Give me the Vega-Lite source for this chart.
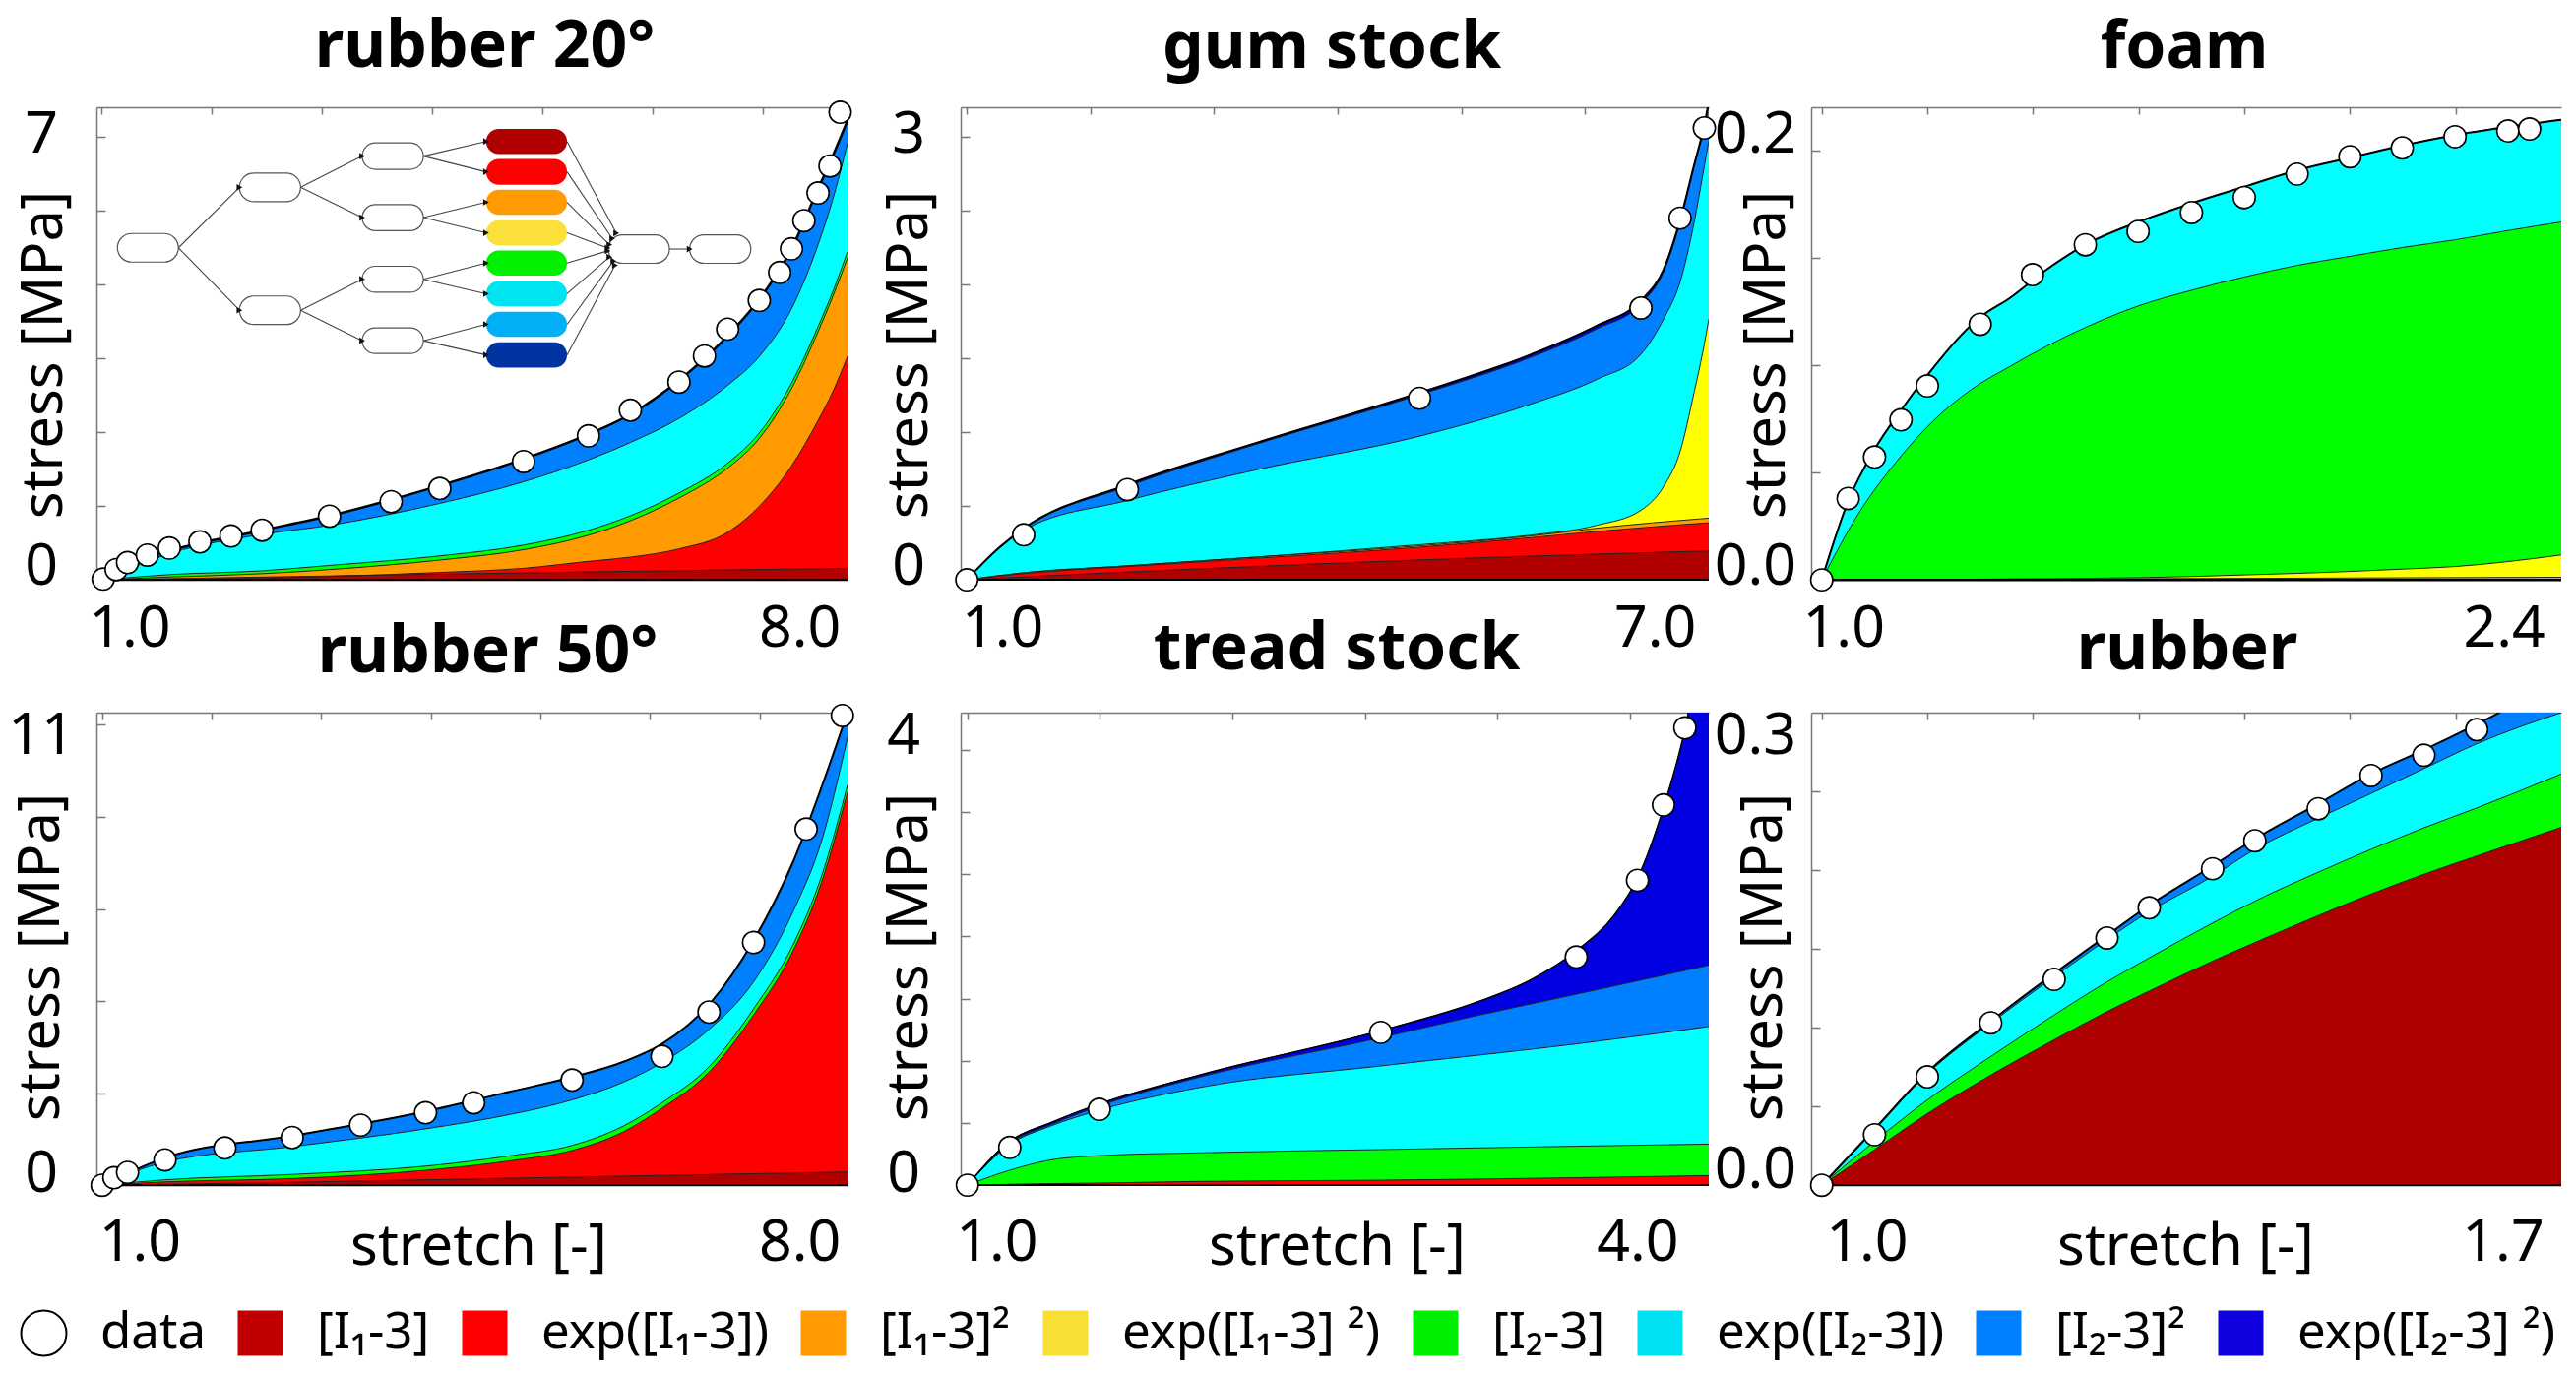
{
"$schema":"https://vega.github.io/schema/vega-lite/v6.json",
"background":"white",
"padding":{"left":8,"top":14,"right":0,"bottom":0},
"config":{"font":"Noto Sans","view":{"stroke":null},"axis":{"domainColor":"#777","tickColor":"#777","domainWidth":1.5,"tickWidth":1.5,"labels":false,"grid":false,"titleFont":"Noto Sans","titleFontSize":58,"titleFontWeight":"normal","titleColor":"black","titleBaseline":"middle"},"title":{"font":"Noto Sans","fontSize":66,"fontWeight":"bold","color":"black","anchor":"middle"},"text":{"font":"Noto Sans","fontSize":59,"color":"black","baseline":"middle","align":"center"}},
"datasets":{
"a1":[
{"t":"I2s","s":1,"v":0},{"t":"I2s","s":1.236,"v":0.235},{"t":"I2s","s":1.631,"v":0.403},{"t":"I2s","s":2.456,"v":0.672},{"t":"I2s","s":3.067,"v":0.868},{"t":"I2s","s":4.067,"v":1.277},{"t":"I2s","s":4.826,"v":1.636},{"t":"I2s","s":5.415,"v":1.972},{"t":"I2s","s":5.795,"v":2.241},{"t":"I2s","s":6.236,"v":2.7},{"t":"I2s","s":6.677,"v":3.305},{"t":"I2s","s":6.964,"v":3.798},{"t":"I2s","s":7.256,"v":4.482},{"t":"I2s","s":7.497,"v":5.294},{"t":"I2s","s":7.631,"v":5.742},{"t":"I2s","s":7.764,"v":6.218},
{"t":"eI2","s":1,"v":0},{"t":"eI2","s":1.631,"v":0.364},{"t":"eI2","s":2.456,"v":0.616},{"t":"eI2","s":3.067,"v":0.739},{"t":"eI2","s":4.067,"v":1.036},{"t":"eI2","s":4.826,"v":1.328},{"t":"eI2","s":5.415,"v":1.625},{"t":"eI2","s":5.795,"v":1.86},{"t":"eI2","s":6.236,"v":2.185},{"t":"eI2","s":6.677,"v":2.633},{"t":"eI2","s":6.964,"v":3.025},{"t":"eI2","s":7.256,"v":3.669},{"t":"eI2","s":7.497,"v":4.538},{"t":"eI2","s":7.631,"v":5.154},{"t":"eI2","s":7.764,"v":5.91},
{"t":"I2","s":1,"v":0},{"t":"I2","s":1.631,"v":0.073},{"t":"I2","s":2.456,"v":0.123},{"t":"I2","s":3.067,"v":0.196},{"t":"I2","s":4.067,"v":0.325},{"t":"I2","s":4.826,"v":0.471},{"t":"I2","s":5.415,"v":0.672},{"t":"I2","s":5.795,"v":0.868},{"t":"I2","s":6.236,"v":1.176},{"t":"I2","s":6.677,"v":1.58},{"t":"I2","s":6.964,"v":1.989},{"t":"I2","s":7.256,"v":2.661},{"t":"I2","s":7.497,"v":3.429},{"t":"I2","s":7.631,"v":3.905},{"t":"I2","s":7.764,"v":4.443},
{"t":"I1s","s":1,"v":0},{"t":"I1s","s":1.631,"v":0.039},{"t":"I1s","s":2.456,"v":0.084},{"t":"I1s","s":3.067,"v":0.14},{"t":"I1s","s":4.067,"v":0.269},{"t":"I1s","s":4.826,"v":0.409},{"t":"I1s","s":5.415,"v":0.605},{"t":"I1s","s":5.795,"v":0.801},{"t":"I1s","s":6.236,"v":1.109},{"t":"I1s","s":6.677,"v":1.513},{"t":"I1s","s":6.964,"v":1.916},{"t":"I1s","s":7.256,"v":2.588},{"t":"I1s","s":7.497,"v":3.361},{"t":"I1s","s":7.631,"v":3.838},{"t":"I1s","s":7.764,"v":4.359},
{"t":"eI1","s":1,"v":0},{"t":"eI1","s":2.456,"v":0.017},{"t":"eI1","s":3.067,"v":0.045},{"t":"eI1","s":4.067,"v":0.101},{"t":"eI1","s":4.826,"v":0.157},{"t":"eI1","s":5.415,"v":0.252},{"t":"eI1","s":5.795,"v":0.308},{"t":"eI1","s":6.236,"v":0.42},{"t":"eI1","s":6.677,"v":0.644},{"t":"eI1","s":6.964,"v":0.997},{"t":"eI1","s":7.256,"v":1.541},{"t":"eI1","s":7.497,"v":2.157},{"t":"eI1","s":7.631,"v":2.549},{"t":"eI1","s":7.764,"v":3.025},
{"t":"I1","s":1,"v":0},{"t":"I1","s":4.067,"v":0.078},{"t":"I1","s":7.764,"v":0.157}
],
"p1":[{"s":1.015,"v":0.011},{"s":1.133,"v":0.14},{"s":1.236,"v":0.235},{"s":1.415,"v":0.336},{"s":1.615,"v":0.431},{"s":1.892,"v":0.515},{"s":2.174,"v":0.594},{"s":2.456,"v":0.672},{"s":3.067,"v":0.863},{"s":3.626,"v":1.059},{"s":4.067,"v":1.238},{"s":4.826,"v":1.602},{"s":5.415,"v":1.95},{"s":5.795,"v":2.297},{"s":6.236,"v":2.678},{"s":6.467,"v":3.031},{"s":6.677,"v":3.395},{"s":6.964,"v":3.782},{"s":7.149,"v":4.162},{"s":7.256,"v":4.482},{"s":7.369,"v":4.863},{"s":7.497,"v":5.238},{"s":7.605,"v":5.602},{"s":7.697,"v":6.331}],
"a2":[
{"t":"eI2s","s":1,"v":0},{"t":"eI2s","s":1.232,"v":0.196},{"t":"eI2s","s":1.46,"v":0.348},{"t":"eI2s","s":2.299,"v":0.645},{"t":"eI2s","s":3.33,"v":0.925},{"t":"eI2s","s":4.661,"v":1.267},{"t":"eI2s","s":5.563,"v":1.527},{"t":"eI2s","s":6.098,"v":1.724},{"t":"eI2s","s":6.451,"v":1.892},{"t":"eI2s","s":6.634,"v":2.102},{"t":"eI2s","s":6.768,"v":2.438},{"t":"eI2s","s":6.879,"v":2.803},{"t":"eI2s","s":6.964,"v":3.083},{"t":"eI2s","s":7,"v":3.237},
{"t":"I2s","s":1,"v":0},{"t":"I2s","s":1.232,"v":0.196},{"t":"I2s","s":1.46,"v":0.347},{"t":"I2s","s":2.299,"v":0.633},{"t":"I2s","s":3.33,"v":0.916},{"t":"I2s","s":4.661,"v":1.253},{"t":"I2s","s":5.563,"v":1.508},{"t":"I2s","s":6.098,"v":1.701},{"t":"I2s","s":6.451,"v":1.869},{"t":"I2s","s":6.634,"v":2.085},{"t":"I2s","s":6.768,"v":2.422},{"t":"I2s","s":6.879,"v":2.789},{"t":"I2s","s":6.964,"v":3.069},{"t":"I2s","s":7,"v":3.223},
{"t":"eI2","s":1,"v":0},{"t":"eI2","s":1.46,"v":0.336},{"t":"eI2","s":2.299,"v":0.538},{"t":"eI2","s":3.33,"v":0.743},{"t":"eI2","s":4.661,"v":0.973},{"t":"eI2","s":5.563,"v":1.191},{"t":"eI2","s":6.098,"v":1.359},{"t":"eI2","s":6.451,"v":1.527},{"t":"eI2","s":6.634,"v":1.766},{"t":"eI2","s":6.768,"v":2.018},{"t":"eI2","s":6.879,"v":2.41},{"t":"eI2","s":6.964,"v":2.803},{"t":"eI2","s":7,"v":2.971},
{"t":"eI1s","s":1,"v":0},{"t":"eI1s","s":1.46,"v":0.048},{"t":"eI1s","s":2.299,"v":0.095},{"t":"eI1s","s":3.33,"v":0.154},{"t":"eI1s","s":4.661,"v":0.238},{"t":"eI1s","s":5.563,"v":0.303},{"t":"eI1s","s":6.098,"v":0.37},{"t":"eI1s","s":6.451,"v":0.471},{"t":"eI1s","s":6.634,"v":0.631},{"t":"eI1s","s":6.768,"v":0.869},{"t":"eI1s","s":6.879,"v":1.261},{"t":"eI1s","s":6.964,"v":1.598},{"t":"eI1s","s":7,"v":1.766},
{"t":"I1s","s":1,"v":0},{"t":"I1s","s":1.46,"v":0.048},{"t":"I1s","s":2.299,"v":0.095},{"t":"I1s","s":3.33,"v":0.154},{"t":"I1s","s":4.661,"v":0.23},{"t":"I1s","s":5.563,"v":0.297},{"t":"I1s","s":6.098,"v":0.35},{"t":"I1s","s":7,"v":0.418},
{"t":"eI1","s":1,"v":0},{"t":"eI1","s":1.46,"v":0.042},{"t":"eI1","s":2.299,"v":0.09},{"t":"eI1","s":3.33,"v":0.146},{"t":"eI1","s":4.661,"v":0.221},{"t":"eI1","s":5.563,"v":0.286},{"t":"eI1","s":6.098,"v":0.328},{"t":"eI1","s":7,"v":0.387},
{"t":"I1","s":1,"v":0},{"t":"I1","s":1.46,"v":0.02},{"t":"I1","s":3.33,"v":0.09},{"t":"I1","s":4.661,"v":0.135},{"t":"I1","s":7,"v":0.196}
],
"p2":[{"s":1,"v":0},{"s":1.46,"v":0.305},{"s":2.299,"v":0.611},{"s":4.661,"v":1.23},{"s":6.451,"v":1.841},{"s":6.768,"v":2.45},{"s":6.964,"v":3.061}],
"a3":[
{"t":"eI2","s":1,"v":0},{"t":"eI2","s":1.05,"v":0.0366},{"t":"eI2","s":1.1,"v":0.0607},{"t":"eI2","s":1.15,"v":0.079},{"t":"eI2","s":1.2,"v":0.0953},{"t":"eI2","s":1.3,"v":0.1223},{"t":"eI2","s":1.355,"v":0.131},{"t":"eI2","s":1.426,"v":0.1445},{"t":"eI2","s":1.499,"v":0.156},{"t":"eI2","s":1.599,"v":0.1666},{"t":"eI2","s":1.7,"v":0.1753},{"t":"eI2","s":1.8,"v":0.183},{"t":"eI2","s":1.9,"v":0.1907},{"t":"eI2","s":2,"v":0.1965},{"t":"eI2","s":2.099,"v":0.2022},{"t":"eI2","s":2.199,"v":0.2071},{"t":"eI2","s":2.299,"v":0.2109},{"t":"eI2","s":2.4,"v":0.2142},
{"t":"I2","s":1,"v":0},{"t":"I2","s":1.072,"v":0.0318},{"t":"I2","s":1.141,"v":0.0549},{"t":"I2","s":1.212,"v":0.0742},{"t":"I2","s":1.283,"v":0.0886},{"t":"I2","s":1.355,"v":0.0992},{"t":"I2","s":1.426,"v":0.1088},{"t":"I2","s":1.499,"v":0.1175},{"t":"I2","s":1.599,"v":0.1275},{"t":"I2","s":1.7,"v":0.1348},{"t":"I2","s":1.8,"v":0.141},{"t":"I2","s":1.9,"v":0.1464},{"t":"I2","s":2,"v":0.1506},{"t":"I2","s":2.099,"v":0.1547},{"t":"I2","s":2.199,"v":0.1583},{"t":"I2","s":2.299,"v":0.1626},{"t":"I2","s":2.4,"v":0.1666},
{"t":"eI1s","s":1,"v":0},{"t":"eI1s","s":1.599,"v":0.001},{"t":"eI1s","s":1.8,"v":0.0023},{"t":"eI1s","s":2,"v":0.0039},{"t":"eI1s","s":2.099,"v":0.005},{"t":"eI1s","s":2.199,"v":0.0062},{"t":"eI1s","s":2.299,"v":0.0085},{"t":"eI1s","s":2.4,"v":0.0116},
{"t":"I1s","s":1,"v":0},{"t":"I1s","s":2.4,"v":0.0012}
],
"p3":[{"s":1,"v":0},{"s":1.05,"v":0.0379},{"s":1.1,"v":0.0572},{"s":1.15,"v":0.0745},{"s":1.2,"v":0.0903},{"s":1.3,"v":0.119},{"s":1.399,"v":0.1421},{"s":1.499,"v":0.156},{"s":1.599,"v":0.1622},{"s":1.7,"v":0.171},{"s":1.8,"v":0.178},{"s":1.9,"v":0.1889},{"s":2,"v":0.197},{"s":2.099,"v":0.2011},{"s":2.199,"v":0.2063},{"s":2.299,"v":0.209},{"s":2.34,"v":0.2099}],
"a4":[
{"t":"I2s","s":1,"v":0},{"t":"I2s","s":1.573,"v":0.594},{"t":"I2s","s":2.734,"v":1.071},{"t":"I2s","s":3.951,"v":1.601},{"t":"I2s","s":4.725,"v":2.033},{"t":"I2s","s":5.288,"v":2.348},{"t":"I2s","s":5.757,"v":2.681},{"t":"I2s","s":6.108,"v":3.068},{"t":"I2s","s":6.537,"v":3.923},{"t":"I2s","s":6.944,"v":5.317},{"t":"I2s","s":7.305,"v":7.027},{"t":"I2s","s":7.564,"v":8.646},{"t":"I2s","s":7.801,"v":10.266},
{"t":"eI2","s":1,"v":0},{"t":"eI2","s":1.573,"v":0.504},{"t":"eI2","s":2.734,"v":0.837},{"t":"eI2","s":3.951,"v":1.224},{"t":"eI2","s":4.725,"v":1.538},{"t":"eI2","s":5.288,"v":1.853},{"t":"eI2","s":5.757,"v":2.24},{"t":"eI2","s":6.108,"v":2.663},{"t":"eI2","s":6.537,"v":3.383},{"t":"eI2","s":6.944,"v":4.417},{"t":"eI2","s":7.305,"v":5.947},{"t":"eI2","s":7.564,"v":7.476},{"t":"eI2","s":7.801,"v":9.717},
{"t":"I2","s":1,"v":0},{"t":"I2","s":1.573,"v":0.117},{"t":"I2","s":2.734,"v":0.234},{"t":"I2","s":3.951,"v":0.414},{"t":"I2","s":4.725,"v":0.639},{"t":"I2","s":5.288,"v":0.864},{"t":"I2","s":5.757,"v":1.287},{"t":"I2","s":6.108,"v":1.79},{"t":"I2","s":6.537,"v":2.573},{"t":"I2","s":6.944,"v":3.833},{"t":"I2","s":7.305,"v":5.227},{"t":"I2","s":7.564,"v":6.712},{"t":"I2","s":7.801,"v":8.691},
{"t":"eI1","s":1,"v":0},{"t":"eI1","s":1.573,"v":0.072},{"t":"eI1","s":2.734,"v":0.144},{"t":"eI1","s":3.951,"v":0.324},{"t":"eI1","s":4.725,"v":0.531},{"t":"eI1","s":5.288,"v":0.756},{"t":"eI1","s":5.757,"v":1.161},{"t":"eI1","s":6.108,"v":1.673},{"t":"eI1","s":6.537,"v":2.456},{"t":"eI1","s":6.944,"v":3.698},{"t":"eI1","s":7.305,"v":5.092},{"t":"eI1","s":7.564,"v":6.577},{"t":"eI1","s":7.801,"v":8.538},
{"t":"I1","s":1,"v":0},{"t":"I1","s":2.734,"v":0.063},{"t":"I1","s":3.951,"v":0.117},{"t":"I1","s":7.801,"v":0.288}
],
"p4":[{"s":1,"v":0},{"s":1.108,"v":0.162},{"s":1.232,"v":0.279},{"s":1.573,"v":0.549},{"s":2.12,"v":0.81},{"s":2.734,"v":1.035},{"s":3.358,"v":1.305},{"s":3.951,"v":1.574},{"s":4.39,"v":1.79},{"s":5.288,"v":2.285},{"s":6.108,"v":2.798},{"s":6.537,"v":3.761},{"s":6.944,"v":5.272},{"s":7.424,"v":7.737},{"s":7.754,"v":10.203}],
"a5":[
{"t":"eI2s","s":1,"v":0},{"t":"eI2s","s":1.16,"v":0.353},{"t":"eI2s","s":1.315,"v":0.503},{"t":"eI2s","s":1.498,"v":0.653},{"t":"eI2s","s":1.877,"v":0.886},{"t":"eI2s","s":2.56,"v":1.243},{"t":"eI2s","s":2.919,"v":1.469},{"t":"eI2s","s":3.127,"v":1.652},{"t":"eI2s","s":3.298,"v":1.885},{"t":"eI2s","s":3.44,"v":2.169},{"t":"eI2s","s":3.529,"v":2.468},{"t":"eI2s","s":3.627,"v":3.035},{"t":"eI2s","s":3.708,"v":3.668},{"t":"eI2s","s":3.742,"v":4.034},{"t":"eI2s","s":3.798,"v":4.6},
{"t":"I2s","s":1,"v":0},{"t":"I2s","s":1.16,"v":0.336},{"t":"I2s","s":1.315,"v":0.486},{"t":"I2s","s":1.498,"v":0.636},{"t":"I2s","s":1.877,"v":0.869},{"t":"I2s","s":2.56,"v":1.186},{"t":"I2s","s":2.919,"v":1.362},{"t":"I2s","s":3.298,"v":1.536},{"t":"I2s","s":3.798,"v":1.769},
{"t":"eI2","s":1,"v":0},{"t":"eI2","s":1.16,"v":0.326},{"t":"eI2","s":1.315,"v":0.476},{"t":"eI2","s":1.498,"v":0.603},{"t":"eI2","s":1.877,"v":0.786},{"t":"eI2","s":2.56,"v":0.959},{"t":"eI2","s":3.298,"v":1.136},{"t":"eI2","s":3.798,"v":1.276},
{"t":"I2","s":1,"v":0},{"t":"I2","s":1.16,"v":0.12},{"t":"I2","s":1.315,"v":0.203},{"t":"I2","s":1.498,"v":0.237},{"t":"I2","s":1.877,"v":0.26},{"t":"I2","s":2.56,"v":0.286},{"t":"I2","s":3.298,"v":0.313},{"t":"I2","s":3.798,"v":0.33},
{"t":"eI1","s":1,"v":0},{"t":"eI1","s":1.16,"v":0.007},{"t":"eI1","s":1.498,"v":0.017},{"t":"eI1","s":1.877,"v":0.03},{"t":"eI1","s":2.56,"v":0.04},{"t":"eI1","s":3.298,"v":0.06},{"t":"eI1","s":3.798,"v":0.077}
],
"p5":[{"s":1,"v":0},{"s":1.16,"v":0.303},{"s":1.498,"v":0.61},{"s":2.56,"v":1.229},{"s":3.298,"v":1.835},{"s":3.529,"v":2.452},{"s":3.627,"v":3.058},{"s":3.708,"v":3.678}],
"a6":[
{"t":"I2s","s":1,"v":0},{"t":"I2s","s":1.05,"v":0.0358},{"t":"I2s","s":1.1,"v":0.0718},{"t":"I2s","s":1.16,"v":0.1042},{"t":"I2s","s":1.22,"v":0.1345},{"t":"I2s","s":1.27,"v":0.1587},{"t":"I2s","s":1.31,"v":0.1779},{"t":"I2s","s":1.37,"v":0.2029},{"t":"I2s","s":1.41,"v":0.22},{"t":"I2s","s":1.47,"v":0.2424},{"t":"I2s","s":1.52,"v":0.2613},{"t":"I2s","s":1.57,"v":0.2766},{"t":"I2s","s":1.62,"v":0.2929},{"t":"I2s","s":1.7,"v":0.3213},
{"t":"eI2","s":1,"v":0},{"t":"eI2","s":1.05,"v":0.035},{"t":"eI2","s":1.1,"v":0.0708},{"t":"eI2","s":1.16,"v":0.1029},{"t":"eI2","s":1.22,"v":0.1324},{"t":"eI2","s":1.27,"v":0.1561},{"t":"eI2","s":1.31,"v":0.1739},{"t":"eI2","s":1.37,"v":0.1963},{"t":"eI2","s":1.41,"v":0.2134},{"t":"eI2","s":1.47,"v":0.2332},{"t":"eI2","s":1.52,"v":0.2489},{"t":"eI2","s":1.57,"v":0.2647},{"t":"eI2","s":1.62,"v":0.2805},{"t":"eI2","s":1.7,"v":0.3003},
{"t":"I2","s":1,"v":0},{"t":"I2","s":1.05,"v":0.0279},{"t":"I2","s":1.1,"v":0.0542},{"t":"I2","s":1.16,"v":0.0818},{"t":"I2","s":1.22,"v":0.1082},{"t":"I2","s":1.27,"v":0.1292},{"t":"I2","s":1.31,"v":0.1445},{"t":"I2","s":1.37,"v":0.1666},{"t":"I2","s":1.41,"v":0.1805},{"t":"I2","s":1.47,"v":0.1989},{"t":"I2","s":1.52,"v":0.2134},{"t":"I2","s":1.57,"v":0.2271},{"t":"I2","s":1.62,"v":0.2397},{"t":"I2","s":1.7,"v":0.2613},
{"t":"I1","s":1,"v":0},{"t":"I1","s":1.05,"v":0.0226},{"t":"I1","s":1.1,"v":0.0455},{"t":"I1","s":1.16,"v":0.07},{"t":"I1","s":1.22,"v":0.0924},{"t":"I1","s":1.27,"v":0.1103},{"t":"I1","s":1.31,"v":0.1234},{"t":"I1","s":1.37,"v":0.1424},{"t":"I1","s":1.41,"v":0.1542},{"t":"I1","s":1.47,"v":0.1713},{"t":"I1","s":1.52,"v":0.185},{"t":"I1","s":1.57,"v":0.1976},{"t":"I1","s":1.62,"v":0.2092},{"t":"I1","s":1.7,"v":0.2274}
],
"p6":[{"s":1,"v":0},{"s":1.05,"v":0.0321},{"s":1.1,"v":0.0689},{"s":1.16,"v":0.1032},{"s":1.22,"v":0.1308},{"s":1.27,"v":0.1571},{"s":1.31,"v":0.1763},{"s":1.37,"v":0.2011},{"s":1.41,"v":0.2189},{"s":1.47,"v":0.2392},{"s":1.52,"v":0.2603},{"s":1.57,"v":0.2732},{"s":1.62,"v":0.2895}],
"boxes":[
{"s":1.144,"s2":1.697,"v":4.303,"v2":4.689},{"s":2.251,"s2":2.805,"v":5.12,"v2":5.507},{"s":2.251,"s2":2.805,"v":3.457,"v2":3.843},
{"s":3.364,"s2":3.918,"v":5.557,"v2":5.916},{"s":3.364,"s2":3.918,"v":4.728,"v2":5.081},{"s":3.364,"s2":3.918,"v":3.894,"v2":4.246},{"s":3.364,"s2":3.918,"v":3.064,"v2":3.412},
{"s":5.595,"s2":6.149,"v":4.286,"v2":4.672},{"s":6.333,"s2":6.887,"v":4.286,"v2":4.672}],
"terms":[
{"t":"n1","s":4.487,"s2":5.221,"v":5.765,"v2":6.106},{"t":"n2","s":4.487,"s2":5.221,"v":5.35,"v2":5.697},{"t":"n3","s":4.487,"s2":5.221,"v":4.941,"v2":5.283},{"t":"n4","s":4.487,"s2":5.221,"v":4.527,"v2":4.868},
{"t":"n5","s":4.487,"s2":5.221,"v":4.118,"v2":4.459},{"t":"n6","s":4.487,"s2":5.221,"v":3.703,"v2":4.045},{"t":"n7","s":4.487,"s2":5.221,"v":3.289,"v2":3.63},{"t":"n8","s":4.487,"s2":5.221,"v":2.874,"v2":3.216}],
"edges":[
{"s":1.697,"v":4.496,"s2":2.251,"v2":5.314},{"s":1.697,"v":4.496,"s2":2.251,"v2":3.65},
{"s":2.805,"v":5.314,"s2":3.364,"v2":5.737},{"s":2.805,"v":5.314,"s2":3.364,"v2":4.905},{"s":2.805,"v":3.65,"s2":3.364,"v2":4.07},{"s":2.805,"v":3.65,"s2":3.364,"v2":3.238},
{"s":3.918,"v":5.737,"s2":4.487,"v2":5.936},{"s":3.918,"v":5.737,"s2":4.487,"v2":5.524},{"s":3.918,"v":4.905,"s2":4.487,"v2":5.112},{"s":3.918,"v":4.905,"s2":4.487,"v2":4.698},
{"s":3.918,"v":4.07,"s2":4.487,"v2":4.289},{"s":3.918,"v":4.07,"s2":4.487,"v2":3.874},{"s":3.918,"v":3.238,"s2":4.487,"v2":3.46},{"s":3.918,"v":3.238,"s2":4.487,"v2":3.045},
{"s":5.221,"v":5.936,"s2":5.667,"v2":4.695},{"s":5.221,"v":5.524,"s2":5.631,"v2":4.622},{"s":5.221,"v":5.112,"s2":5.605,"v2":4.538},{"s":5.221,"v":4.698,"s2":5.59,"v2":4.493},
{"s":5.221,"v":4.289,"s2":5.59,"v2":4.454},{"s":5.221,"v":3.874,"s2":5.605,"v2":4.37},{"s":5.221,"v":3.46,"s2":5.641,"v2":4.314},{"s":5.221,"v":3.045,"s2":5.656,"v2":4.258},
{"s":6.149,"v":4.479,"s2":6.333,"v2":4.479}],
"heads":[
{"s":2.251,"v":5.314},{"s":2.251,"v":3.65},{"s":3.364,"v":5.737},{"s":3.364,"v":4.905},{"s":3.364,"v":4.07},{"s":3.364,"v":3.238},
{"s":4.487,"v":5.936},{"s":4.487,"v":5.524},{"s":4.487,"v":5.112},{"s":4.487,"v":4.698},{"s":4.487,"v":4.289},{"s":4.487,"v":3.874},{"s":4.487,"v":3.46},{"s":4.487,"v":3.045},
{"s":5.667,"v":4.695},{"s":5.631,"v":4.622},{"s":5.605,"v":4.538},{"s":5.59,"v":4.493},{"s":5.59,"v":4.454},{"s":5.605,"v":4.37},{"s":5.641,"v":4.314},{"s":5.656,"v":4.258},{"s":6.333,"v":4.479}]
},
"bounds":"flush",
"columns":3,
"spacing":{"row":134,"column":104},
"resolve":{"scale":{"color":"independent","fill":"independent"},"legend":{"color":"independent","fill":"independent"}},
"concat":[
{"title":{"text":"rubber 20°","dx":13,"offset":18},"width":763,"height":481,
"encoding":{"x":{"field":"s","type":"quantitative","scale":{"domain":[0.954,7.764],"nice":false,"zero":false},"axis":{"orient":"top","values":[1,2,3,4,5,6,7],"tickSize":-7,"title":null}},
"y":{"field":"v","type":"quantitative","stack":null,"scale":{"domain":[-0.011,6.398],"nice":false,"zero":false},"axis":{"values":[1,2,3,4,5,6],"tickSize":-9,"title":"stress [MPa]","titleX":-53,"titleY":251}}},
"layer":[
{"data":{"name":"a1"},"mark":{"type":"area","clip":true,"interpolate":"monotone"},"encoding":{"color":{"field":"t","type":"nominal","legend":null,"scale":{"domain":["data","I1","eI1","I1s","eI1s","I2","eI2","I2s","eI2s"],"range":["#ffffff","#b00000","#ff0000","#ff9a00","#ffff00","#00ff00","#00ffff","#0080ff","#0000e0"]}}}},
{"data":{"name":"a1"},"mark":{"type":"line","clip":true,"interpolate":"monotone","color":"#222","strokeWidth":1},"encoding":{"detail":{"field":"t"}}},
{"data":{"name":"a1"},"transform":[{"filter":"datum.t==='I2s'"}],"mark":{"type":"line","clip":true,"interpolate":"monotone","color":"black","strokeWidth":2.5}},
{"data":{"values":[{"s":1,"s2":7.764,"v":0}]},"mark":{"type":"rule","color":"black","strokeWidth":2},"encoding":{"x2":{"field":"s2"}}},
{"data":{"name":"edges"},"mark":{"type":"rule","color":"#444","strokeWidth":1.1},"encoding":{"x2":{"field":"s2"},"y2":{"field":"v2"}}},
{"data":{"name":"boxes"},"mark":{"type":"rect","fill":"white","stroke":"#555","strokeWidth":1.2,"cornerRadius":15},"encoding":{"x2":{"field":"s2"},"y2":{"field":"v2"}}},
{"data":{"name":"terms"},"mark":{"type":"rect","cornerRadius":15},"encoding":{"x2":{"field":"s2"},"y2":{"field":"v2"},"fill":{"field":"t","type":"nominal","legend":null,"scale":{"domain":["n1","n2","n3","n4","n5","n6","n7","n8"],"range":["#b00000","#ff0000","#ff9a00","#fbdf3a","#00f000","#00e4f0","#00b0f5","#0033a0"]}}}},
{"data":{"name":"heads"},"mark":{"type":"point","shape":"triangle-right","filled":true,"color":"#111","size":45,"opacity":1}},
{"data":{"name":"p1"},"mark":{"type":"point","size":500,"fill":"white","stroke":"black","strokeWidth":1.6,"opacity":1}},
{"data":{"values":[{"s":1.256,"v":0,"label":"1.0"},{"s":7.333,"v":0,"label":"8.0"}]},"mark":{"type":"text","dy":50},"encoding":{"text":{"field":"label"}}},
{"data":{"values":[{"s":0.954,"v":6.02,"label":"7"},{"s":0.954,"v":0.179,"label":"0"}]},"mark":{"type":"text","dx":-56},"encoding":{"text":{"field":"label"}}}
]},
{"title":{"text":"gum stock","dx":-3,"offset":25},"width":760,"height":481,
"encoding":{"x":{"field":"s","type":"quantitative","scale":{"domain":[0.951,7],"nice":false,"zero":false},"axis":{"orient":"top","values":[1,2,3,4,5,6],"tickSize":-7,"title":null}},
"y":{"field":"v","type":"quantitative","stack":null,"scale":{"domain":[-0.006,3.201],"nice":false,"zero":false},"axis":{"values":[0.5,1,1.5,2,2.5,3],"tickSize":-9,"title":"stress [MPa]","titleX":-52,"titleY":251}}},
"layer":[
{"data":{"name":"a2"},"mark":{"type":"area","clip":true,"interpolate":"monotone"},"encoding":{"color":{"field":"t","type":"nominal","legend":null,"scale":{"domain":["data","I1","eI1","I1s","eI1s","I2","eI2","I2s","eI2s"],"range":["#ffffff","#b00000","#ff0000","#ff9a00","#ffff00","#00ff00","#00ffff","#0080ff","#0000e0"]}}}},
{"data":{"name":"a2"},"mark":{"type":"line","clip":true,"interpolate":"monotone","color":"#222","strokeWidth":1},"encoding":{"detail":{"field":"t"}}},
{"data":{"name":"a2"},"transform":[{"filter":"datum.t==='eI2s'"}],"mark":{"type":"line","clip":true,"interpolate":"monotone","color":"black","strokeWidth":2}},
{"data":{"values":[{"s":1,"s2":7,"v":0}]},"mark":{"type":"rule","color":"black","strokeWidth":2},"encoding":{"x2":{"field":"s2"}}},
{"data":{"name":"p2"},"mark":{"type":"point","size":500,"fill":"white","stroke":"black","strokeWidth":1.6,"opacity":1}},
{"data":{"values":[{"s":1.29,"v":0,"label":"1.0"},{"s":6.567,"v":0,"label":"7.0"}]},"mark":{"type":"text","dy":50},"encoding":{"text":{"field":"label"}}},
{"data":{"values":[{"s":0.951,"v":3.013,"label":"3"},{"s":0.951,"v":0.09,"label":"0"}]},"mark":{"type":"text","dx":-53},"encoding":{"text":{"field":"label"}}}
]},
{"title":{"text":"foam","dx":-2,"offset":25},"width":762,"height":481,
"encoding":{"x":{"field":"s","type":"quantitative","scale":{"domain":[0.98,2.4],"nice":false,"zero":false},"axis":{"orient":"top","values":[1,1.2,1.4,1.6,1.8,2,2.2],"tickSize":-7,"title":null}},
"y":{"field":"v","type":"quantitative","stack":null,"scale":{"domain":[-0.0004,0.22],"nice":false,"zero":false},"axis":{"values":[0.05,0.1,0.15,0.2],"tickSize":-9,"title":"stress [MPa]","titleX":-45,"titleY":251}}},
"layer":[
{"data":{"name":"a3"},"mark":{"type":"area","clip":true,"interpolate":"monotone"},"encoding":{"color":{"field":"t","type":"nominal","legend":null,"scale":{"domain":["data","I1","eI1","I1s","eI1s","I2","eI2","I2s","eI2s"],"range":["#ffffff","#b00000","#ff0000","#ff9a00","#ffff00","#00ff00","#00ffff","#0080ff","#0000e0"]}}}},
{"data":{"name":"a3"},"mark":{"type":"line","clip":true,"interpolate":"monotone","color":"#222","strokeWidth":1},"encoding":{"detail":{"field":"t"}}},
{"data":{"name":"a3"},"transform":[{"filter":"datum.t==='eI2'"}],"mark":{"type":"line","clip":true,"interpolate":"monotone","color":"black","strokeWidth":2}},
{"data":{"values":[{"s":1,"s2":2.4,"v":0}]},"mark":{"type":"rule","color":"black","strokeWidth":2.5},"encoding":{"x2":{"field":"s2"}}},
{"data":{"name":"p3"},"mark":{"type":"point","size":500,"fill":"white","stroke":"black","strokeWidth":1.6,"opacity":1}},
{"data":{"values":[{"s":1.042,"v":0,"label":"1.0"},{"s":2.292,"v":0,"label":"2.4"}]},"mark":{"type":"text","dy":50},"encoding":{"text":{"field":"label"}}},
{"data":{"values":[{"s":0.98,"v":0.207,"label":"0.2"},{"s":0.98,"v":0.0062,"label":"0.0"}]},"mark":{"type":"text","dx":-15,"align":"right"},"encoding":{"text":{"field":"label"}}}
]},
{"title":{"text":"rubber 50°","dx":16,"offset":16},"width":763,"height":481,
"encoding":{"x":{"field":"s","type":"quantitative","scale":{"domain":[0.948,7.801],"nice":false,"zero":false},"axis":{"orient":"top","values":[1,2,3,4,5,6,7],"tickSize":-7,"title":"stretch [-]","titleX":388,"titleY":543}},
"y":{"field":"v","type":"quantitative","stack":null,"scale":{"domain":[-0.018,10.266],"nice":false,"zero":false},"axis":{"values":[2,4,6,8,10],"tickSize":-9,"title":"stress [MPa]","titleX":-56,"titleY":248}}},
"layer":[
{"data":{"name":"a4"},"mark":{"type":"square","size":0,"opacity":1},"encoding":{"fill":{"field":"t","type":"nominal","scale":{"domain":["data","I1","eI1","I1s","eI1s","I2","eI2","I2s","eI2s"],"range":["#ffffff","#c00000","#ff0000","#ff9a00","#f8df35","#00ee00","#00e2f2","#0080ff","#1000e0"]},
"legend":{"orient":"none","legendX":-79,"legendY":605,"direction":"horizontal","columns":9,"gridAlign":"none","columnPadding":28,"symbolSize":2116,"labelFont":"Noto Sans","labelFontSize":51,"labelOffset":32,"labelColor":"black","labelLimit":0,"title":null,
"labelExpr":"{'data':'data','I1':'[I₁-3]','eI1':'exp([I₁-3])','I1s':'[I₁-3]²','eI1s':'exp([I₁-3] ²)','I2':'[I₂-3]','eI2':'exp([I₂-3])','I2s':'[I₂-3]²','eI2s':'exp([I₂-3] ²)'}[datum.value]",
"encoding":{"symbols":{"shape":{"value":{"signal":"datum.value==='data'?'circle':'square'"}},"opacity":{"value":1},"stroke":{"value":{"signal":"datum.value==='data'?'black':'transparent'"}},"strokeWidth":{"value":2}}}}}}},
{"data":{"name":"a4"},"mark":{"type":"area","clip":true,"interpolate":"monotone"},"encoding":{"color":{"field":"t","type":"nominal","legend":null,"scale":{"domain":["data","I1","eI1","I1s","eI1s","I2","eI2","I2s","eI2s"],"range":["#ffffff","#b00000","#ff0000","#ff9a00","#ffff00","#00ff00","#00ffff","#0080ff","#0000e0"]}}}},
{"data":{"name":"a4"},"mark":{"type":"line","clip":true,"interpolate":"monotone","color":"#222","strokeWidth":1},"encoding":{"detail":{"field":"t"}}},
{"data":{"name":"a4"},"transform":[{"filter":"datum.t==='I2s'"}],"mark":{"type":"line","clip":true,"interpolate":"monotone","color":"black","strokeWidth":2}},
{"data":{"values":[{"s":1,"s2":7.801,"v":0}]},"mark":{"type":"rule","color":"black","strokeWidth":2},"encoding":{"x2":{"field":"s2"}}},
{"data":{"name":"p4"},"mark":{"type":"point","size":500,"fill":"white","stroke":"black","strokeWidth":1.6,"opacity":1}},
{"data":{"values":[{"s":1.346,"v":0,"label":"1.0"},{"s":7.367,"v":0,"label":"8.0"}]},"mark":{"type":"text","dy":59},"encoding":{"text":{"field":"label"}}},
{"data":{"values":[{"s":0.948,"v":9.744,"label":"11"},{"s":0.948,"v":0.234,"label":"0"}]},"mark":{"type":"text","dx":-56},"encoding":{"text":{"field":"label"}}}
]},
{"title":{"text":"tread stock","dx":2,"offset":25},"width":760,"height":481,
"encoding":{"x":{"field":"s","type":"quantitative","scale":{"domain":[0.975,3.798],"nice":false,"zero":false},"axis":{"orient":"top","values":[1,1.5,2,2.5,3,3.5],"tickSize":-7,"title":"stretch [-]","titleX":382,"titleY":543}},
"y":{"field":"v","type":"quantitative","stack":null,"scale":{"domain":[-0.007,3.801],"nice":false,"zero":false},"axis":{"values":[0.5,1,1.5,2,2.5,3,3.5],"tickSize":-9,"title":"stress [MPa]","titleX":-52,"titleY":248}}},
"layer":[
{"data":{"name":"a5"},"mark":{"type":"area","clip":true,"interpolate":"monotone"},"encoding":{"color":{"field":"t","type":"nominal","legend":null,"scale":{"domain":["data","I1","eI1","I1s","eI1s","I2","eI2","I2s","eI2s"],"range":["#ffffff","#b00000","#ff0000","#ff9a00","#ffff00","#00ff00","#00ffff","#0080ff","#0000e0"]}}}},
{"data":{"name":"a5"},"mark":{"type":"line","clip":true,"interpolate":"monotone","color":"#222","strokeWidth":1},"encoding":{"detail":{"field":"t"}}},
{"data":{"name":"a5"},"transform":[{"filter":"datum.t==='eI2s'"}],"mark":{"type":"line","clip":true,"interpolate":"monotone","color":"black","strokeWidth":1.5}},
{"data":{"values":[{"s":1,"s2":3.798,"v":0}]},"mark":{"type":"rule","color":"black","strokeWidth":2},"encoding":{"x2":{"field":"s2"}}},
{"data":{"name":"p5"},"mark":{"type":"point","size":500,"fill":"white","stroke":"black","strokeWidth":1.6,"opacity":1}},
{"data":{"values":[{"s":1.112,"v":0,"label":"1.0"},{"s":3.53,"v":0,"label":"4.0"}]},"mark":{"type":"text","dy":59},"encoding":{"text":{"field":"label"}}},
{"data":{"values":[{"s":0.975,"v":3.608,"label":"4"},{"s":0.975,"v":0.087,"label":"0"}]},"mark":{"type":"text","dx":-58},"encoding":{"text":{"field":"label"}}}
]},
{"title":{"text":"rubber","dx":1,"offset":25},"width":762,"height":481,
"encoding":{"x":{"field":"s","type":"quantitative","scale":{"domain":[0.99,1.7],"nice":false,"zero":false},"axis":{"orient":"top","values":[1,1.1,1.2,1.3,1.4,1.5,1.6],"tickSize":-7,"title":"stretch [-]","titleX":380,"titleY":543}},
"y":{"field":"v","type":"quantitative","stack":null,"scale":{"domain":[-0.0005,0.3003],"nice":false,"zero":false},"axis":{"values":[0.05,0.1,0.15,0.2,0.25],"tickSize":-9,"title":"stress [MPa]","titleX":-48,"titleY":248}}},
"layer":[
{"data":{"name":"a6"},"mark":{"type":"area","clip":true,"interpolate":"monotone"},"encoding":{"color":{"field":"t","type":"nominal","legend":null,"scale":{"domain":["data","I1","eI1","I1s","eI1s","I2","eI2","I2s","eI2s"],"range":["#ffffff","#ae0000","#ff0000","#ff9a00","#ffff00","#00ff00","#00ffff","#0080ff","#0000e0"]}}}},
{"data":{"name":"a6"},"mark":{"type":"line","clip":true,"interpolate":"monotone","color":"#222","strokeWidth":1},"encoding":{"detail":{"field":"t"}}},
{"data":{"name":"a6"},"transform":[{"filter":"datum.t==='I2s'"}],"mark":{"type":"line","clip":true,"interpolate":"monotone","color":"black","strokeWidth":2}},
{"data":{"values":[{"s":1,"s2":1.7,"v":0}]},"mark":{"type":"rule","color":"black","strokeWidth":2},"encoding":{"x2":{"field":"s2"}}},
{"data":{"name":"p6"},"mark":{"type":"point","size":500,"fill":"white","stroke":"black","strokeWidth":1.6,"opacity":1}},
{"data":{"values":[{"s":1.043,"v":0,"label":"1.0"},{"s":1.645,"v":0,"label":"1.7"}]},"mark":{"type":"text","dy":59},"encoding":{"text":{"field":"label"}}},
{"data":{"values":[{"s":0.99,"v":0.285,"label":"0.3"},{"s":0.99,"v":0.0095,"label":"0.0"}]},"mark":{"type":"text","dx":-15,"align":"right"},"encoding":{"text":{"field":"label"}}}
]},
{"width":774,"height":1,"data":{"values":[{"s":0}]},"mark":{"type":"rule","opacity":0},"encoding":{}}
]
}
